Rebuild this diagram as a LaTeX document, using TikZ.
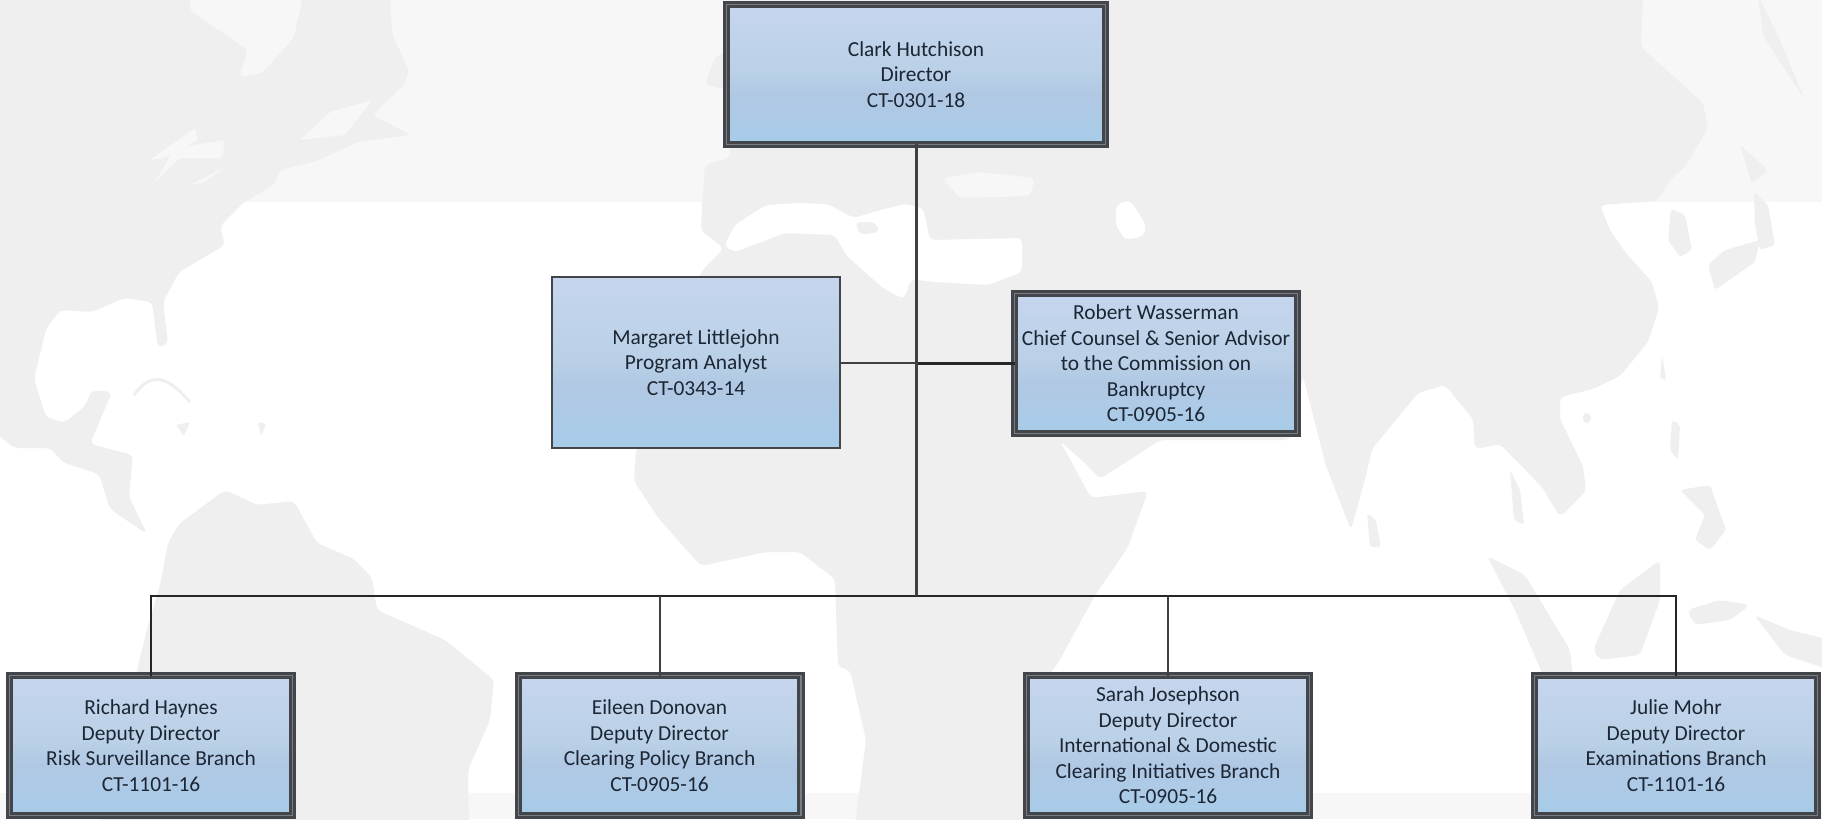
\documentclass[tikz,border=0pt]{standalone}
\usepackage{fontspec}
\setmainfont{Carlito}
\usepackage{xcolor}
\usepackage{tikz}
\usetikzlibrary{positioning}
\definecolor{landcolor}{RGB}{239,239,239}
\definecolor{bandcolor}{RGB}{247,247,247}
\definecolor{framecolor}{RGB}{66,70,75}
\definecolor{seamcolor}{RGB}{122,126,132}
\definecolor{wirecolor}{RGB}{62,64,67}
\definecolor{textcolor}{RGB}{28,38,52}
\definecolor{fadelow}{RGB}{168,204,232}
\definecolor{fadeband}{RGB}{177,200,228}
\definecolor{fademid}{RGB}{186,209,231}
\definecolor{fadetop}{RGB}{198,213,237}
\pgfdeclareverticalshading{boxfade}{100bp}{color(0bp)=(fadelow); color(27bp)=(fadelow); color(43bp)=(fadeband); color(52bp)=(fademid); color(75bp)=(fadetop); color(100bp)=(fadetop)}
\tikzset{
    orgbox/.style={shade, shading=boxfade, align=center, outer sep=0pt, inner sep=0pt,
        text=textcolor, font=\fontsize{21.4}{25.5}\selectfont},
    headbox/.style={orgbox, draw=framecolor, line width=3pt, double=seamcolor, double distance=1.2pt,
        minimum height=139.8pt},
    plainbox/.style={orgbox, draw=framecolor, line width=2.2pt, minimum width=288pt, minimum height=171pt},
    wire/.style={draw=wirecolor, line width=3pt},
    thinwire/.style={draw=wirecolor, line width=2pt},
    blackwire/.style={draw=black!85, line width=2.8pt},
    land/.style={fill=landcolor, draw=none, rounded corners=5pt},
    sea/.style={fill=white, draw=none, rounded corners=5pt}
}

\begin{document}
\begin{tikzpicture}[x=1pt, y=-1pt]
    \useasboundingbox (0,0) rectangle (1822,819);
    \begin{scope}
    \clip (0,0) rectangle (1822,819);
    % Backdrop bands
    \fill[white] (0,0) rectangle (1822,819);
    \fill[bandcolor] (0,0) rectangle (1822,202);
    \fill[bandcolor] (0,793) rectangle (1822,819);

    % North America
    \fill[land] (-5,-5) -- (190,-5) -- (190,11) -- (248,50) -- (239,77) -- (262,73) -- (294,38) -- (303,-5) -- (390,-5) -- (392,35)
        -- (409,70) -- (404,85) -- (372,115) -- (411,135) -- (358,142) -- (317,161) -- (280,170) -- (275,184) -- (243,203)
        -- (220,226) -- (225,245) -- (179,272) -- (163,302) -- (168,344) -- (158,348) -- (152,302) -- (124,298) -- (92,312)
        -- (60,310) -- (46,329) -- (34,379) -- (46,417) -- (64,423) -- (85,406) -- (92,390) -- (112,392) -- (90,444)
        -- (133,455) -- (129,497) -- (147,534) -- (110,509) -- (99,474) -- (64,463) -- (50,448) -- (14,448) -- (-5,432) -- cycle;
    % Great Lakes
    \fill[bandcolor, rounded corners=2pt] (150,160) -- (195,128) -- (198,140) -- (165,158) -- cycle;
    \fill[bandcolor, rounded corners=2pt] (155,182) -- (175,148) -- (225,140) -- (222,158) -- (180,158) -- cycle;
    \fill[bandcolor, rounded corners=2pt] (190,185) -- (225,167) -- (205,182) -- cycle;
    \fill[bandcolor, rounded corners=2pt] (300,140) -- (330,112) -- (372,100) -- (345,135) -- cycle;
    % Caribbean
    \fill[land, rounded corners=1pt] (176,425) -- (190,422) -- (184,436) -- cycle;
    \fill[land, rounded corners=1pt] (258,422) -- (266,424) -- (261,436) -- cycle;
    \draw[landcolor, line width=3pt] (134,395) .. controls (155,365) and (175,385) .. (190,402);
    % South America
    \fill[land] (168,543) -- (179,524) -- (225,490) -- (257,505) -- (294,501) -- (317,543) -- (354,559) -- (372,578)
        -- (377,610) -- (445,640) -- (494,680) -- (490,720) -- (468,770) -- (469,825) -- (100,825) -- (146,633) -- (160,585) -- cycle;

    % Africa, Europe and Asia
    \fill[land] (702,207) -- (705,165) -- (730,158) -- (730,90) -- (705,85) -- (715,57) -- (730,50) -- (730,-5) -- (1643,-5) -- (1641,47) -- (1703,103) -- (1708,128) -- (1685,167) -- (1671,179)
        -- (1657,201) -- (1600,205) -- (1610,230) -- (1625,252) -- (1652,282) -- (1659,308) -- (1648,342) -- (1620,376)
        -- (1593,389) -- (1560,397) -- (1560,419) -- (1583,466) -- (1586,491) -- (1560,517) -- (1542,487) -- (1500,444)
        -- (1475,449) -- (1473,419) -- (1445,385) -- (1418,393) -- (1372,449) -- (1365,479) -- (1351,530) -- (1326,466)
        -- (1303,376) -- (1290,440) -- (1160,440) -- (1100,479) -- (1087,465) -- (1060,441) -- (1091,498) -- (1148,491)
        -- (1128,547) -- (1094,597) -- (1058,663) -- (1030,700) -- (1023,825) -- (855,825) -- (866,740) -- (850,670)
        -- (838,667) -- (835,579) -- (800,552) -- (766,552) -- (701,566) -- (659,519) -- (634,481) -- (636,451) -- (701,272)
        -- (724,248) -- (701,231) -- cycle;
    % Mediterranean and inland seas
    \fill[sea] (724,246) -- (735,225) -- (766,205) -- (800,203) -- (827,204) -- (854,218) -- (877,211) -- (904,204) -- (923,208)
        -- (930,240) -- (1022,238) -- (1022,272) -- (988,285) -- (934,282) -- (911,279) -- (904,299) -- (884,289) -- (846,255)
        -- (835,235) -- (785,233) -- (735,252) -- cycle;
    \fill[land] (855,222) -- (875,222) -- (880,232) -- (860,235) -- cycle;
    \fill[sea] (1116,205) -- (1130,200) -- (1146,225) -- (1144,236) -- (1125,240) -- (1116,225) -- cycle;
    \fill[bandcolor, rounded corners=5pt] (942,178) -- (980,172) -- (1035,178) -- (1030,196) -- (960,198) -- cycle;

    % Islands of East Asia
    \fill[land, rounded corners=3pt] (1671,209) -- (1685,215) -- (1692,250) -- (1680,257) -- (1668,240) -- cycle;
    \fill[land, rounded corners=3pt] (1754,192) -- (1768,205) -- (1775,245) -- (1760,250) -- (1755,225) -- cycle;
    \fill[land, rounded corners=3pt] (1708,265) -- (1725,250) -- (1760,240) -- (1755,262) -- (1715,290) -- cycle;
    \fill[land, rounded corners=3pt] (1740,145) -- (1768,170) -- (1752,184) -- cycle;
    \fill[land, rounded corners=3pt] (1758,-5) -- (1780,40) -- (1804,98) -- (1785,70) -- (1763,35) -- cycle;
    \fill[land, rounded corners=1pt] (1662,355) -- (1666,380) -- (1660,378) -- cycle;
    \fill[land, rounded corners=2pt] (1585,412) -- (1592,416) -- (1588,424) -- (1582,420) -- cycle;
    \fill[land, rounded corners=3pt] (1367,513) -- (1376,520) -- (1381,547) -- (1370,547) -- cycle;
    \fill[land, rounded corners=3pt] (1510,470) -- (1520,490) -- (1524,525) -- (1514,520) -- cycle;
    % Philippines
    \fill[land, rounded corners=3pt] (1672,420) -- (1680,425) -- (1678,460) -- (1670,450) -- cycle;
    \fill[land, rounded corners=3pt] (1680,490) -- (1710,485) -- (1726,530) -- (1710,550) -- (1695,540) -- (1705,515) -- cycle;
    % Sumatra, Borneo, Sulawesi and New Guinea
    \fill[land] (1487,556) -- (1525,575) -- (1570,650) -- (1575,700) -- (1545,680) -- (1515,610) -- cycle;
    \fill[land] (1593,650) -- (1620,590) -- (1660,560) -- (1660,600) -- (1640,655) -- (1600,660) -- cycle;
    \fill[land] (1687,610) -- (1720,600) -- (1750,605) -- (1730,620) -- (1695,625) -- cycle;
    \fill[land] (1754,615) -- (1790,630) -- (1830,640) -- (1830,670) -- (1785,655) -- cycle;
    \end{scope}

    % Director and staff
    \node[headbox, minimum width=378.8pt] (ch) at (916,74.5) {Clark Hutchison\\Director\\CT-0301-18};
    \node[plainbox] (ml) at (696,362.5) {Margaret Littlejohn\\Program Analyst\\CT-0343-14};
    \node[headbox, minimum width=282.8pt] (rw) at (1156,363.5) {Robert Wasserman\\Chief Counsel \& Senior Advisor\\to the Commission on\\Bankruptcy\\CT-0905-16};

    % Branches
    \foreach \nm/\cx/\txt in {
        rh/151/{Richard Haynes\\Deputy Director\\Risk Surveillance Branch\\CT-1101-16},
        ed/659.5/{Eileen Donovan\\Deputy Director\\Clearing Policy Branch\\CT-0905-16},
        sj/1168/{Sarah Josephson\\Deputy Director\\International \& Domestic\\Clearing Initiatives Branch\\CT-0905-16},
        jm/1676/{Julie Mohr\\Deputy Director\\Examinations Branch\\CT-1101-16}} {
        \node[headbox, minimum width=282.8pt] (\nm) at (\cx,745.5) {\txt};
    }

    % Connectors
    \coordinate (busjoin) at (916,596);
    \draw[thinwire] (ml.east) -- (ml.east -| busjoin);
    \draw[blackwire] (rw.west) -- (rw.west -| busjoin);
    \draw[blackwire] (rh.north) |- (busjoin);
    \draw[blackwire] (jm.north) |- (busjoin);
    \draw[wire] (ch.south) -- (busjoin);
    \foreach \nm in {ed, sj} {
        \draw[thinwire] (\nm.north) -- (\nm.north |- busjoin);
    }
\end{tikzpicture}
\end{document}
